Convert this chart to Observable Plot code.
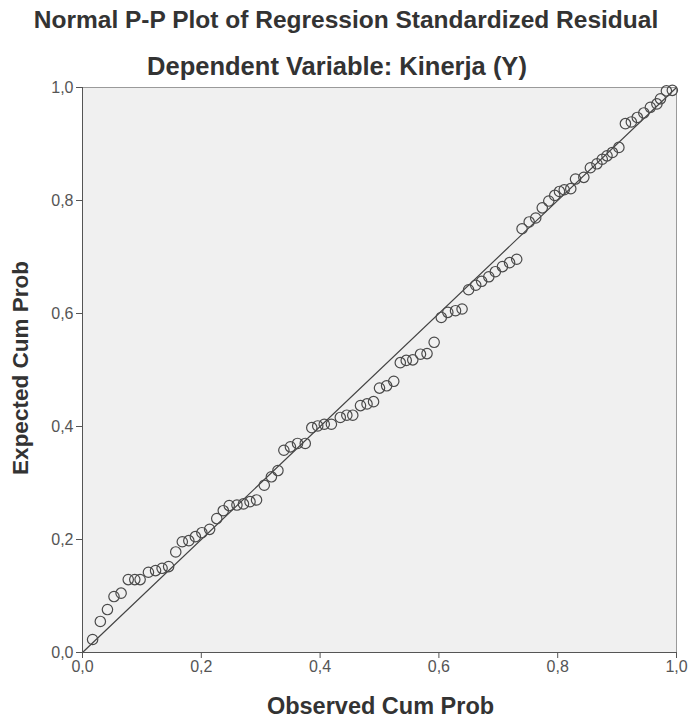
<!DOCTYPE html>
<html><head><meta charset="utf-8">
<script src="https://cdn.jsdelivr.net/npm/d3@7"></script>
<script src="https://cdn.jsdelivr.net/npm/@observablehq/plot@0.6"></script>
<style>
body{margin:0;background:#fff;font-family:"Liberation Sans",Arial,sans-serif;}
#head{position:relative;width:688px;height:75px;}
.t{position:absolute;left:0;width:688px;text-align:center;font-weight:bold;color:#333;font-size:24.5px;line-height:28px;white-space:nowrap;}
#chart svg{display:block;}
</style></head><body>
<div id="head">
<div class="t" id="t1" style="top:6px;left:2px">Normal P-P Plot of Regression Standardized Residual</div>
<div class="t" id="t2" style="top:52px;left:-7px;font-size:25.5px">Dependent Variable: Kinerja (Y)</div>
</div>
<div id="chart"></div>
<script>
const observed = [0.017,0.030,0.042,0.053,0.065,0.077,0.088,0.097,0.111,0.123,
0.134,0.145,0.157,0.168,0.179,0.190,0.201,0.214,0.226,0.237,
0.247,0.260,0.271,0.282,0.293,0.306,0.318,0.329,0.339,0.350,
0.362,0.375,0.386,0.396,0.407,0.419,0.434,0.445,0.455,0.468,
0.479,0.490,0.500,0.512,0.524,0.535,0.545,0.556,0.569,0.580,
0.592,0.604,0.615,0.628,0.639,0.650,0.662,0.672,0.684,0.695,
0.707,0.719,0.731,0.740,0.752,0.763,0.774,0.785,0.795,0.803,
0.811,0.822,0.830,0.844,0.855,0.866,0.875,0.883,0.892,0.903,
0.914,0.924,0.934,0.945,0.956,0.967,0.973,0.983,0.993];
const expected = [0.023,0.055,0.076,0.099,0.105,0.129,0.129,0.129,0.142,0.145,
0.149,0.152,0.178,0.196,0.198,0.205,0.212,0.218,0.237,0.251,
0.260,0.261,0.263,0.267,0.270,0.296,0.311,0.322,0.358,0.364,
0.370,0.370,0.398,0.401,0.404,0.404,0.416,0.420,0.420,0.437,
0.440,0.444,0.468,0.472,0.480,0.513,0.517,0.518,0.528,0.529,
0.549,0.593,0.602,0.605,0.608,0.642,0.650,0.657,0.665,0.674,
0.683,0.690,0.696,0.750,0.762,0.769,0.787,0.799,0.809,0.816,
0.819,0.821,0.838,0.841,0.858,0.865,0.873,0.879,0.885,0.894,
0.936,0.939,0.947,0.955,0.965,0.971,0.980,0.994,0.995];
const tickValues = [0, 0.2, 0.4, 0.6, 0.8, 1.0];
const refLine = [0, 1];
const xLabel = "Observed Cum Prob";
const yLabel = "Expected Cum Prob";

const points = observed.map((o, i) => ({observed: o, expected: expected[i]}));
const fmt = d => d.toFixed(1).replace(".", ",");

const chart = Plot.plot({
  width: 688,
  height: 644,
  marginTop: 12,
  marginLeft: 82,
  marginRight: 12,
  marginBottom: 67,
  x: {domain: [0, 1]},
  y: {domain: [0, 1]},
  style: {background: "transparent", fontFamily: "'Liberation Sans', Arial, sans-serif"},
  marks: [
    Plot.frame({fill: "#f0f0f0", stroke: "#9a9a9a"}),
    Plot.line(refLine, {x: d => d, y: d => d, stroke: "#444", strokeWidth: 1.2}),
    Plot.dot(points, {x: "observed", y: "expected", r: 5.2, stroke: "#4a4a4a", strokeWidth: 1.2, fill: "none"}),
    Plot.ruleX([0], {stroke: "#555"}),
    Plot.ruleY([0], {stroke: "#555"}),
    Plot.axisX({ticks: tickValues, tickFormat: fmt, tickSize: 6, tickPadding: 2, fontSize: 16, stroke: "#555", fill: "#555", label: null}),
    Plot.axisY({ticks: tickValues, tickFormat: fmt, tickSize: 6, tickPadding: 3, fontSize: 16, stroke: "#555", fill: "#555", label: null}),
    Plot.text([xLabel], {text: d => d, frameAnchor: "bottom", textAnchor: "middle", lineAnchor: "middle", dx: 1, dy: 54, fontSize: 23.5, fontWeight: "bold", fill: "#333"}),
    Plot.text([yLabel], {text: d => d, frameAnchor: "left", textAnchor: "middle", lineAnchor: "middle", dx: -62, dy: -2, rotate: -90, fontSize: 22.5, fontWeight: "bold", fill: "#333"})
  ]
});
document.getElementById("chart").append(chart);
</script>
</body></html>
